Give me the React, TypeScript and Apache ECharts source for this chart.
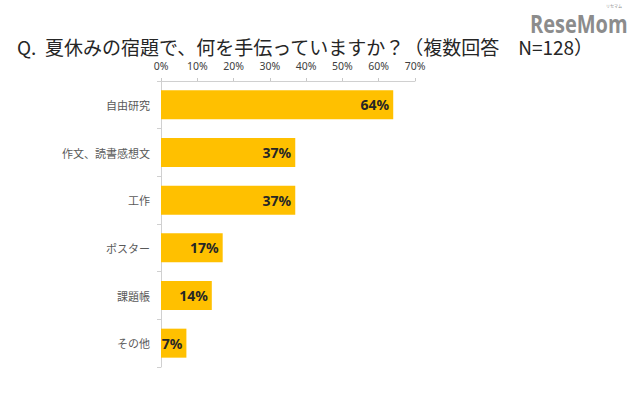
import React, { useEffect, useRef } from "react";
import * as echarts from "echarts";

const categories = ["自由研究", "作文、読書感想文", "工作", "ポスター", "課題帳", "その他"];
const values = [64, 37, 37, 17, 14, 7];
const titleText = "Q.  夏休みの宿題で、何を手伝っていますか？（複数回答　N=128）";

export default function App() {
  const ref = useRef<HTMLDivElement>(null);
  useEffect(() => {
    document.body.style.margin = "0";
    const chart = echarts.init(ref.current!, undefined, { renderer: "svg" });
    chart.setOption({
      animation: false,
      backgroundColor: "#ffffff",
      title: {
        text: titleText,
        left: 12,
        top: 32,
        textStyle: { fontSize: 19, fontWeight: "normal", color: "#262626", fontFamily: "Noto Sans CJK JP", lineHeight: 19 },
      },
      graphic: [
        {
          type: "text",
          x: 530,
          y: 11,
          scaleY: 1.25,
          style: { text: "ReseMom", fontSize: 20, fontWeight: "bold", fill: "#8c8c8c", fontFamily: "Open Sans" },
        },
        {
          type: "text",
          x: 606,
          y: 4,
          style: { text: "リセマム", fontSize: 4, fill: "#8c8c8c", fontFamily: "Noto Sans CJK JP" },
        },
      ],
      grid: { left: 161, top: 81, width: 254, height: 286 },
      xAxis: {
        type: "value",
        position: "top",
        min: 0,
        max: 70,
        interval: 10,
        axisLine: { show: true, lineStyle: { color: "#d0d0d0" } },
        axisTick: { show: true, length: 3, lineStyle: { color: "#c8c8c8" } },
        splitLine: { show: false },
        axisLabel: { formatter: "{value}%", color: "#404040", fontSize: 10.5, margin: 10, fontFamily: "Noto Sans" },
      },
      yAxis: {
        type: "category",
        data: categories,
        inverse: true,
        axisLine: { show: true, lineStyle: { color: "#d0d0d0" } },
        axisTick: { show: true, length: 4, lineStyle: { color: "#d0d0d0" } },
        axisLabel: { color: "#595959", fontSize: 11, margin: 11, fontFamily: "Noto Sans CJK JP" },
      },
      series: [
        {
          type: "bar",
          data: values,
          barWidth: 29,
          itemStyle: { color: "#FFC000" },
          label: {
            show: true,
            position: "insideRight",
            formatter: "{c}%",
            color: "#262626",
            fontSize: 14,
            fontWeight: "bold",
            fontFamily: "Noto Sans",
            distance: 4,
          },
        },
      ],
    });
    return () => chart.dispose();
  }, []);
  return <div ref={ref} style={{ width: 640, height: 405 }} />;
}
